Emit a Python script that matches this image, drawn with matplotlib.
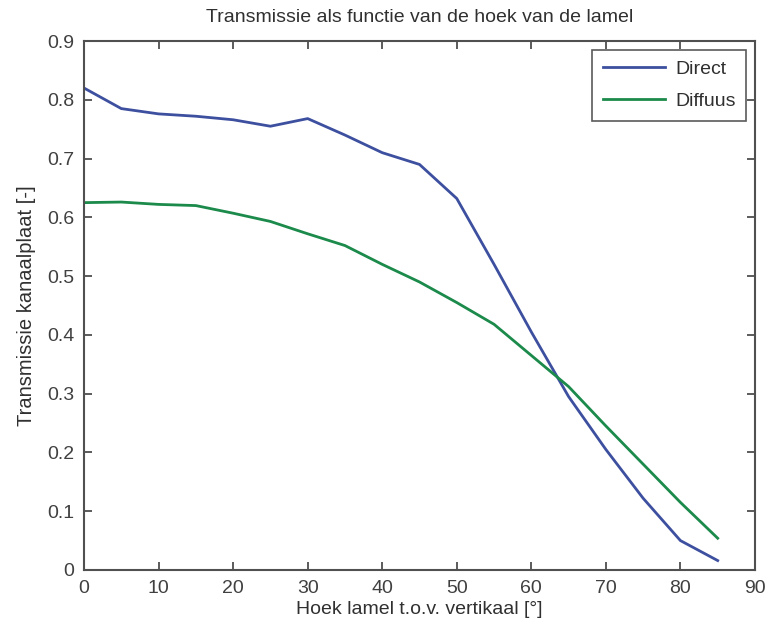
import matplotlib
matplotlib.use("Agg")
import matplotlib.pyplot as plt

angles = [0, 5, 10, 15, 20, 25, 30, 35, 40, 45, 50, 55, 60, 65, 70, 75, 80, 85]
direct = [0.820, 0.785, 0.776, 0.772, 0.766, 0.755, 0.768, 0.740, 0.710, 0.690, 0.632,
          0.520, 0.405, 0.295, 0.205, 0.122, 0.050, 0.016]
diffuus = [0.625, 0.626, 0.622, 0.620, 0.607, 0.593, 0.572, 0.552, 0.520, 0.490, 0.455,
           0.418, 0.365, 0.312, 0.245, 0.180, 0.115, 0.054]
xticks = [0, 10, 20, 30, 40, 50, 60, 70, 80, 90]
yticks = [0, 0.1, 0.2, 0.3, 0.4, 0.5, 0.6, 0.7, 0.8, 0.9]
ytick_labels = ["0", "0.1", "0.2", "0.3", "0.4", "0.5", "0.6", "0.7", "0.8", "0.9"]

plt.rcParams['font.family'] = ['Liberation Sans', 'DejaVu Sans']

fig = plt.figure(figsize=(7.66, 6.28), dpi=100)
ax = fig.add_axes([0.1097, 0.0924, 0.8759, 0.8423])

ax.plot(angles, direct, color='#3d4f9f', lw=2.0, label='Direct')
ax.plot(angles, diffuus, color='#1b8a4a', lw=2.0, label='Diffuus')

ax.set_xlim(0, 90)
ax.set_ylim(0, 0.9)
ax.set_xticks(xticks)
ax.set_yticks(yticks)
ax.set_yticklabels(ytick_labels)

ax.tick_params(direction='in', length=6, width=1.2, top=True, right=True,
               labelsize=14, colors='#404040')
ax.tick_params(axis='y', pad=7)
ax.tick_params(axis='x', pad=7)
for s in ax.spines.values():
    s.set_color('#505050')
    s.set_linewidth(1.5)

ax.set_title('Transmissie als functie van de hoek van de lamel', fontsize=14,
             color='#303030', pad=14)
ax.set_xlabel('Hoek lamel t.o.v. vertikaal [°]', fontsize=14, color='#303030', labelpad=3)
ax.set_ylabel('Transmissie kanaalplaat [-]', fontsize=14.5, color='#303030', labelpad=8)

leg = ax.legend(loc='upper right', fontsize=14, frameon=True, fancybox=False,
                edgecolor='#303030', borderaxespad=0.45, handlelength=3.2,
                labelspacing=0.75, borderpad=0.55, handletextpad=0.5)
leg.get_frame().set_linewidth(1.2)
for t in leg.get_texts():
    t.set_color('#303030')

fig.savefig('out.png', dpi=100, facecolor='white')
